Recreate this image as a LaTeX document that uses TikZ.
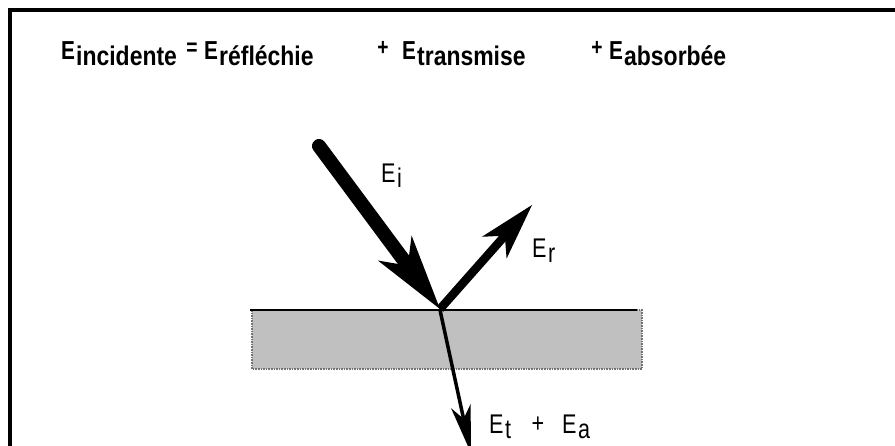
\documentclass[tikz,border=0pt]{standalone}
\usepackage{fontspec}
\setmainfont{Liberation Sans}
\newfontfamily\hdEfont{Liberation Sans}[FakeStretch=0.8]
\newfontfamily\hdsubfont{Liberation Sans}[FakeStretch=0.85]
\newfontfamily\lblfont{Liberation Sans}[FakeStretch=0.8]
\usetikzlibrary{arrows.meta}
\definecolor{slabgray}{HTML}{C0C0C0}
\tikzset{
  hdE/.style={inner sep=0pt, anchor=base west, font=\hdEfont\bfseries\fontsize{26}{26}\selectfont},
  hdsub/.style={inner sep=0pt, anchor=base west, font=\hdsubfont\bfseries\fontsize{27}{27}\selectfont},
  hdop/.style={inner sep=0pt, anchor=base, font=\hdEfont\bfseries\fontsize{24}{24}\selectfont},
  lblE/.style={inner sep=0pt, anchor=base west, font=\lblfont\fontsize{27}{27}\selectfont},
  lblop/.style={inner sep=0pt, anchor=base, font=\lblfont\fontsize{27}{27}\selectfont},
  ray/.style={draw=black, line join=miter},
}
\begin{document}
\begin{tikzpicture}[x=1pt,y=-1pt]
\useasboundingbox (0,0) rectangle (895,445);
\clip (0,0) rectangle (895,445);
\fill[white] (0,0) rectangle (895,445);
% frame
\draw[line width=3.8pt] (10,450) -- (10,9.7) -- (900,9.7);
% heading
\node[hdE] (e1) at (61,59) {E};
\node[hdsub] (s1) at (76,65) {incidente};
\node[hdop] (eq) at (192,55) {=};
\node[hdE] (e2) at (204,59) {E};
\node[hdsub] (s2) at (219,65) {réfléchie};
\node[hdop] (p1) at (383,55) {+};
\node[hdE] (e3) at (402,59) {E};
\node[hdsub] (s3) at (417,65) {transmise};
\node[hdop] (p2) at (597,55) {+};
\node[hdE] (e4) at (609,59) {E};
\node[hdsub] (s4) at (624,65) {absorbée};
% slab
\fill[slabgray] (252,310) rectangle (642,369);
\draw[draw=black!55, line width=1.6pt, densely dotted] (252,310) rectangle (642,369);
\draw[line width=2.2pt] (250,310) -- (637,310);
% rays
\coordinate (Ei0) at (319,146);
\coordinate (O) at (440,309);
\coordinate (Er1) at (532,205);
\coordinate (Ot) at (440,310);
\coordinate (Et1) at (471,453);
\draw[ray, line width=14pt, line cap=round, -{Stealth[length=76pt, width=42pt, inset=22pt, line width=0pt]}] (Ei0) -- (O);
\draw[ray, line width=8.5pt, -{Stealth[length=57pt, width=33pt, inset=16pt, line width=0pt]}] (O) -- (Er1);
\draw[ray, line width=3.5pt, -{Stealth[length=48pt, width=20pt, inset=13pt, line width=0pt]}] (Ot) -- (Et1);
% labels
\node[lblE] (Ei) at (381,182) {E};
\node[lblE] (Eis) at (397,187) {i};
\node[lblE] (Er) at (532,257) {E};
\node[lblE] (Ers) at (548,262) {r};
\node[lblE] (Et) at (489,433) {E};
\node[lblE] (Ets) at (505,438) {t};
\node[lblop] (pl) at (538,432) {+};
\node[lblE] (Ea) at (562,433) {E};
\node[lblE] (Eas) at (578,438) {a};
\end{tikzpicture}
\end{document}
